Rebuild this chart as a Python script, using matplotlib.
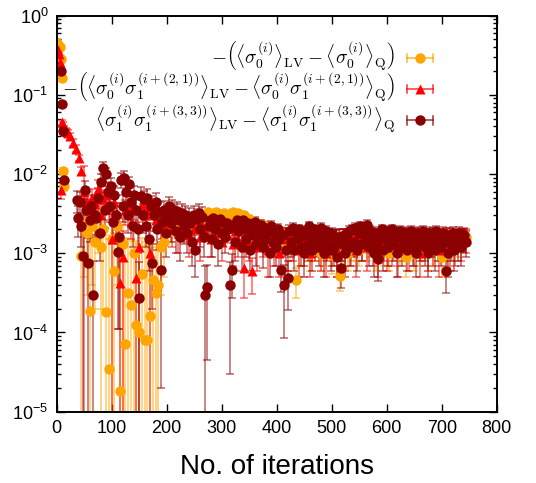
import numpy as np
import matplotlib
matplotlib.use("Agg")
import matplotlib.pyplot as plt
from matplotlib.lines import Line2D
from matplotlib.legend_handler import HandlerBase
from matplotlib.ticker import LogLocator, NullFormatter, MultipleLocator

plt.rcParams['font.family'] = ['Liberation Sans', 'DejaVu Sans']
plt.rcParams['mathtext.fontset'] = 'cm'

nan = np.nan
# iteration numbers (sampling of the data)
iters_a = np.r_[np.arange(0, 20, 2), np.arange(20, 750, 5)]
iters_b = np.r_[[8, 10, 12, 14], np.arange(36, 747, 3)]

# values in units of 1e-3
s0_val = [450, 430, 410, 400, 280, 165, 11, 7.0, nan, nan,
          nan, nan, nan, nan, nan, 0.93, 2.5, 1.8, 0.185, 2.2,
          1.4, 3.0, 1.2, 2.0, 0.18, 0.035, 1.5, 0.60, 2.2, 0.018,
          1.3, 0.072, 0.315, 0.22, 1.0, 0.125, 0.10, 0.54, 0.081, 0.080,
          0.16, 0.46, 0.315, 0.40, 1.2, 1.4, 2.0, 2.4, 1.9, 2.5,
          2.2, 2.7, 2.0, 2.8, 2.3, 2.1, 2.6, 2.3, 2.8, 2.4,
          3.0, 3.3, 3.1, 2.9, 3.3, 3.0, 2.7, 3.2, 2.9, 3.1,
          3.3, 2.8, 3.2, 2.6, 3.0, 2.5, 2.7, 2.3, 2.5, 2.1,
          2.3, 2.0, 2.2, 1.8, 2.0, 1.7, 1.9, 1.5, 1.8, 1.4,
          1.6, 1.3, 1.5, 0.46, 1.2, 1.5, 1.1, 1.4, 1.0, 1.3,
          1.2, 1.5, 1.0, 1.3, 1.1, 1.4, 0.95, 1.2, 1.3, 0.51,
          1.1, 1.4, 1.0, 1.3, 1.2, 1.5, 1.1, 1.4, 1.6, 1.2,
          1.3, 1.5, 1.0, 1.2, 1.4, 1.1, 1.3, 1.0, 1.5, 1.2,
          1.4, 1.1, 1.3, 0.9, 1.2, 1.4, 1.0, 1.3, 1.1, 1.2,
          1.4, 1.0, 1.3, 1.1, 1.5, 1.2, 0.9, 1.3, 1.1, 1.4,
          1.2, 1.4, 1.3, 1.5, 1.4, 1.6]
s0_err = [50, 40, 30, 30, 20, 10, 1.0, 0.8, nan, nan,
          nan, nan, nan, nan, nan, 1.5, 2.0, 1.5, 1.5, 1.8,
          1.2, 2.0, 1.3, 1.8, 1.5, 1.5, 1.6, 1.2, 1.8, 1.6,
          1.4, 1.5, 1.2, 1.2, 1.2, 1.3, 1.2, 1.0, 1.3, 1.2,
          1.0, 1.0, 0.9, 0.9, 0.9, 0.9, 0.4, 0.4, 0.5, 0.4,
          0.4, 0.4, 0.5, 0.4, 0.4, 0.5, 0.4, 0.4, 0.4, 0.4,
          0.3, 0.3, 0.3, 0.3, 0.3, 0.3, 0.3, 0.3, 0.3, 0.3,
          0.3, 0.3, 0.3, 0.3, 0.3, 0.3, 0.3, 0.3, 0.3, 0.3,
          0.35, 0.35, 0.35, 0.35, 0.35, 0.35, 0.35, 0.4, 0.35, 0.4,
          0.4, 0.5, 0.4, 0.19, 0.5, 0.4, 0.4, 0.4, 0.4, 0.5,
          0.4, 0.4, 0.4, 0.5, 0.4, 0.4, 0.4, 0.4, 0.5, 0.18,
          0.4, 0.4, 0.4, 0.5, 0.4, 0.4, 0.4, 0.4, 0.35, 0.4,
          0.4, 0.4, 0.4, 0.4, 0.4, 0.4, 0.4, 0.4, 0.4, 0.4,
          0.4, 0.4, 0.4, 0.4, 0.4, 0.4, 0.4, 0.4, 0.4, 0.4,
          0.4, 0.4, 0.4, 0.4, 0.4, 0.4, 0.4, 0.4, 0.4, 0.4,
          0.4, 0.4, 0.4, 0.4, 0.4, 0.35]

s01_val = [360, 370, 330, 260, 6.3, 45, 42, 37, 35, 34,
           33, 30, 25, 21, 16, 11, 6.0, 4.5, 3.5, 5.0,
           4.2, 6.5, 3.0, 4.8, 5.5, 3.8, 1.5, 4.5, 3.2, 0.42,
           0.9, 3.5, 4.0, 2.5, 3.8, 0.49, 1.2, 4.2, 3.0, 3.5,
           1.0, 3.2, 2.6, 3.6, 2.2, 3.0, 2.4, 3.0, 2.0, 2.7,
           1.8, 2.8, 2.1, 2.5, 1.7, 2.4, 2.0, 2.6, 1.6, 2.3,
           1.9, 2.4, 1.5, 2.2, 1.8, 2.1, 1.4, 2.0, 1.7, 2.2,
           1.3, 1.9, 1.5, 2.0, 0.66, 1.8, 1.4, 0.59, 2.0, 1.2,
           1.7, 1.5, 1.9, 1.1, 1.6, 1.3, 1.8, 1.0, 1.5, 1.7,
           1.2, 1.6, 1.4, 1.9, 1.1, 1.5, 1.3, 1.7, 1.0, 1.6,
           1.4, 1.8, 1.2, 1.5, 1.0, 1.7, 1.3, 1.6, 1.1, 1.4,
           1.5, 1.2, 1.7, 1.3, 1.8, 1.1, 1.6, 1.4, 1.9, 1.2,
           1.5, 1.3, 1.7, 1.0, 1.6, 1.4, 1.2, 1.8, 1.3, 1.5,
           1.1, 1.6, 1.4, 1.7, 1.2, 1.5, 1.3, 1.8, 1.0, 1.6,
           1.4, 1.2, 1.7, 1.3, 1.5, 1.1, 1.6, 1.4, 1.8, 1.2,
           1.5, 1.3, 1.6, 1.4, 1.7, 1.5]
s01_err = [20, 20, 20, 15, 1.4, 3, 3, 3, 3, 3,
           3, 3, 2.5, 2, 1.5, 1.2, 6.5, 1.5, 1.2, 1.5,
           1.3, 1.8, 1.2, 1.5, 1.6, 1.2, 1.6, 1.3, 1.1, 0.5,
           1.0, 1.2, 1.3, 1.0, 1.2, 0.6, 1.3, 1.3, 1.1, 1.2,
           1.1, 0.6, 0.7, 0.6, 0.8, 0.6, 0.7, 0.6, 0.8, 0.6,
           0.8, 0.5, 0.7, 0.5, 0.8, 0.5, 0.7, 0.5, 0.8, 0.5,
           0.35, 0.4, 0.6, 0.4, 0.35, 0.4, 0.6, 0.35, 0.35, 0.4,
           0.6, 0.35, 0.6, 0.35, 0.39, 0.35, 0.6, 0.28, 0.35, 0.6,
           0.35, 0.6, 0.35, 0.6, 0.35, 0.6, 0.35, 0.5, 0.6, 0.35,
           0.6, 0.35, 0.6, 0.3, 0.6, 0.5, 0.6, 0.35, 0.5, 0.35,
           0.6, 0.3, 0.6, 0.5, 0.5, 0.35, 0.6, 0.35, 0.6, 0.6,
           0.5, 0.6, 0.35, 0.6, 0.3, 0.6, 0.35, 0.6, 0.3, 0.6,
           0.5, 0.6, 0.35, 0.5, 0.35, 0.6, 0.6, 0.3, 0.6, 0.5,
           0.6, 0.35, 0.6, 0.35, 0.6, 0.5, 0.6, 0.3, 0.5, 0.35,
           0.6, 0.6, 0.35, 0.6, 0.5, 0.6, 0.35, 0.6, 0.3, 0.6,
           0.5, 0.6, 0.35, 0.6, 0.35, 0.5]

s11_val = [200, 77, 35, 8.5,
           4.7, 2.8, 4.5, 2.2, 0.93, 6.3, 3.5, 0.76, 2.6, 4.0,
           0.30, 3.0, 2.8, 5.0, 1.8, 8.0, 12.0, 3.5, 10.0, 6.0,
           4.0, 7.0, 2.5, 5.5, 3.0, 1.05, 1.6, 8.5, 4.0, 9.0,
           6.0, 3.0, 7.5, 4.5, 2.2, 5.5, 3.5, 2.0, 0.27, 5.3,
           3.0, 4.8, 2.2, 5.0, 1.5, 4.0, 0.75, 3.0, 4.5, 2.0,
           3.3, 0.62, 2.5, 3.5, 1.8, 3.0, 3.9, 2.4, 3.6, 3.2,
           1.9, 3.4, 2.6, 1.6, 3.2, 2.2, 3.0, 1.8, 2.8, 2.4,
           1.4, 3.0, 1.1, 2.7, 3.2, 2.0, 2.9, 1.6, 0.30, 0.38,
           2.2, 2.6, 1.5, 2.8, 2.0, 2.4, 1.3, 2.7, 1.8, 2.5,
           1.6, 2.4, 2.0, 0.40, 0.62, 2.3, 1.4, 2.6, 1.9, 2.2,
           1.2, 2.6, 2.0, 1.5, 2.4, 1.1, 2.2, 1.7, 2.5, 1.3,
           2.0, 1.6, 2.3, 1.2, 2.1, 1.5, 1.9, 1.0, 2.2, 1.4,
           1.8, 1.2, 2.0, 1.5, 0.62, 1.7, 0.40, 1.1, 0.49, 1.9,
           1.4, 2.1, 1.1, 1.8, 1.5, 2.0, 1.2, 1.7, 1.0, 1.9,
           1.3, 2.2, 1.6, 1.1, 2.0, 1.4, 1.8, 1.2, 2.1, 1.5,
           1.0, 1.9, 1.3, 1.7, 1.1, 1.8, 1.2, 1.5, 0.9, 1.6,
           0.66, 1.3, 1.7, 1.0, 1.5, 1.9, 1.2, 2.0, 1.4, 2.1,
           1.1, 1.8, 2.2, 1.3, 2.0, 1.6, 2.3, 1.2, 1.9, 1.5,
           1.0, 1.8, 1.3, 0.85, 1.6, 2.0, 1.1, 1.5, 1.9, 1.2,
           1.7, 2.0, 1.3, 1.8, 1.0, 1.6, 1.9, 1.2, 1.5, 1.8,
           1.1, 1.7, 1.4, 1.9, 1.2, 1.6, 1.0, 1.8, 1.3, 1.5,
           1.9, 1.2, 1.6, 1.0, 1.8, 1.4, 1.7, 1.1, 1.9, 1.3,
           1.6, 1.2, 1.8, 1.4, 0.59, 1.0, 1.7, 1.3, 1.8, 1.1,
           1.6, 1.3, 1.8, 1.2, 1.5, 1.7, 1.4]
s11_err = [10, 5, 3, 1.5,
           1.5, 1.2, 1.5, 1.0, 1.0, 1.8, 1.3, 0.8, 1.2, 1.4,
           0.5, 1.3, 1.2, 1.6, 1.0, 2.0, 2.0, 1.4, 2.0, 1.8,
           1.5, 1.8, 1.2, 1.6, 1.3, 0.94, 1.49, 1.8, 1.5, 1.8,
           1.6, 1.2, 1.6, 1.4, 1.0, 1.5, 1.2, 1.0, 0.5, 1.5,
           1.2, 1.4, 1.0, 1.4, 0.9, 1.3, 0.55, 1.1, 1.3, 0.9,
           1.1, 0.6, 1.0, 1.1, 0.9, 1.0, 1.2, 1.0, 1.1, 1.0,
           0.9, 1.0, 0.9, 0.8, 1.0, 0.9, 1.0, 0.8, 0.9, 0.9,
           0.7, 1.0, 0.6, 0.9, 1.0, 0.8, 0.9, 0.7, 0.4, 0.335,
           0.5, 0.5, 0.6, 0.5, 0.5, 0.5, 0.6, 0.5, 0.5, 0.5,
           0.6, 0.45, 0.45, 0.37, 0.35, 0.45, 0.6, 0.45, 0.45, 0.45,
           0.6, 0.4, 0.4, 0.6, 0.4, 0.5, 0.4, 0.5, 0.4, 0.6,
           0.35, 0.5, 0.35, 0.55, 0.35, 0.5, 0.35, 0.5, 0.35, 0.5,
           0.35, 0.5, 0.35, 0.5, 0.3, 0.4, 0.316, 0.5, 0.30, 0.35,
           0.5, 0.3, 0.5, 0.35, 0.5, 0.3, 0.5, 0.4, 0.5, 0.3,
           0.5, 0.3, 0.4, 0.5, 0.3, 0.5, 0.35, 0.5, 0.3, 0.45,
           0.5, 0.3, 0.5, 0.35, 0.5, 0.3, 0.5, 0.45, 0.4, 0.4,
           0.3, 0.5, 0.35, 0.5, 0.45, 0.3, 0.5, 0.3, 0.5, 0.3,
           0.5, 0.35, 0.3, 0.5, 0.3, 0.4, 0.3, 0.5, 0.3, 0.45,
           0.5, 0.35, 0.5, 0.4, 0.4, 0.3, 0.5, 0.45, 0.3, 0.5,
           0.4, 0.3, 0.5, 0.35, 0.5, 0.4, 0.3, 0.5, 0.45, 0.35,
           0.5, 0.4, 0.5, 0.3, 0.5, 0.4, 0.5, 0.35, 0.5, 0.45,
           0.3, 0.5, 0.4, 0.5, 0.35, 0.5, 0.4, 0.5, 0.3, 0.5,
           0.4, 0.5, 0.35, 0.5, 0.275, 0.5, 0.4, 0.5, 0.35, 0.5,
           0.4, 0.5, 0.35, 0.5, 0.45, 0.4, 0.5]

labels = [
    r'$-\left(\langle\sigma_0^{(i)}\rangle_{\mathrm{LV}}-\langle\sigma_0^{(i)}\rangle_{\mathrm{Q}}\right)$',
    r'$-\left(\langle\sigma_0^{(i)}\sigma_1^{(i+(2,1))}\rangle_{\mathrm{LV}}-\langle\sigma_0^{(i)}\sigma_1^{(i+(2,1))}\rangle_{\mathrm{Q}}\right)$',
    r'$\langle\sigma_1^{(i)}\sigma_1^{(i+(3,3))}\rangle_{\mathrm{LV}}-\langle\sigma_1^{(i)}\sigma_1^{(i+(3,3))}\rangle_{\mathrm{Q}}$',
]
colors = ['#ffa500', '#ff0000', '#8b0000']
markers = ['o', '^', 'o']
msizes = [7.5, 7.5, 7.5]
series = [(iters_a, s0_val, s0_err), (iters_a, s01_val, s01_err), (iters_b, s11_val, s11_err)]

fig = plt.figure(figsize=(5.36, 4.83), dpi=100)
ax = fig.add_axes([0.1058, 0.1476, 0.8209, 0.82])

for k, ((xs, v, e), c, m, ms) in enumerate(zip(series, colors, markers, msizes)):
    v = np.array(v, dtype=float) * 1e-3
    e = np.array(e, dtype=float) * 1e-3
    cont = ax.errorbar(xs, v, yerr=e, fmt=m, color=c, ms=ms, mec='none',
                       ecolor=c, elinewidth=1.1, capsize=3.0, capthick=1.1)
    cont[0].set_zorder(3 + k)
    for art in list(cont[1]) + list(cont[2]):
        art.set_alpha(0.6)
        art.set_zorder(2)

ax.set_yscale('log', nonpositive='clip')
ax.set_xlim(0, 800)
ax.set_ylim(1e-5, 1)
ax.xaxis.set_major_locator(MultipleLocator(100))
ax.yaxis.set_major_locator(LogLocator(base=10, numticks=10))
ax.yaxis.set_minor_locator(LogLocator(base=10, subs=np.arange(2, 10), numticks=20))
ax.yaxis.set_minor_formatter(NullFormatter())
ax.tick_params(which='both', direction='in', top=True, right=True, width=1.0)
ax.tick_params(which='major', length=6, labelsize=13, pad=6)
ax.tick_params(which='minor', length=3)
for sp in ax.spines.values():
    sp.set_linewidth(1.4)
    sp.set_zorder(10)
ax.set_xlabel('No. of iterations', fontsize=20, labelpad=12)


class HandlerGP(HandlerBase):
    def create_artists(self, legend, orig_handle, xdescent, ydescent, width,
                       height, fontsize, trans):
        y = height / 2 - ydescent
        x0, x1 = -xdescent, width - xdescent
        c = orig_handle.get_color()
        h = 3.0
        arts = [
            Line2D([x0, x1], [y, y], color=c, lw=1.1, alpha=0.8),
            Line2D([x0, x0], [y - h, y + h], color=c, lw=1.1, alpha=0.8),
            Line2D([x1, x1], [y - h, y + h], color=c, lw=1.1, alpha=0.8),
            Line2D([(x0 + x1) / 2], [y], marker=orig_handle.get_marker(),
                   color=c, ms=orig_handle.get_markersize(), mec='none', ls='none'),
        ]
        for a in arts:
            a.set_transform(trans)
        return arts


handles = [Line2D([], [], color=c, marker=m, ms=ms) for c, m, ms in zip(colors, markers, msizes)]
leg = ax.legend(handles, labels, handler_map={Line2D: HandlerGP()},
                loc='upper right', bbox_to_anchor=(0.855, 0.94),
                frameon=False, markerfirst=False, fontsize=14,
                handlelength=1.35, handletextpad=0.6, labelspacing=-0.1,
                borderaxespad=0, borderpad=0)
leg.set_zorder(20)

fig.savefig('out.png', dpi=100)
